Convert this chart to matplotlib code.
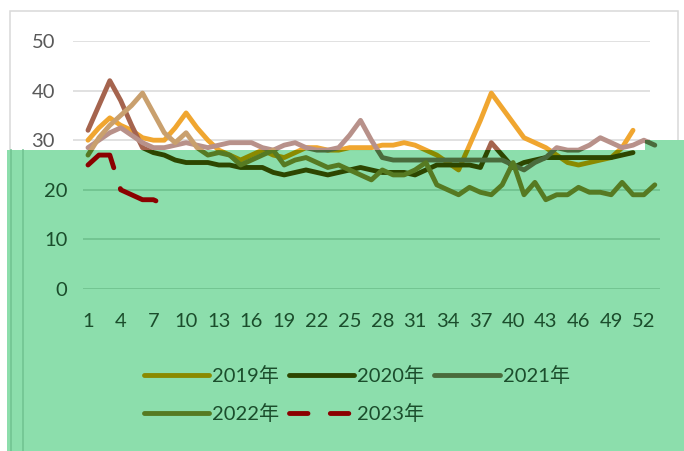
import matplotlib.pyplot as plt
import numpy as np
from matplotlib.lines import Line2D
from matplotlib.patches import Polygon, Rectangle

plt.rcParams['font.family'] = ['Lato', 'Noto Sans CJK SC']

# weekly values per year
weeks = np.arange(1, 54)
y2019 = [30, 32.5, 34.5, 33, 32, 30.5, 30, 30, 32.5, 35.5, 32.5, 30, 28, 27, 26, 27,
         28, 27, 26.5, 27.5, 28.5, 28.5, 28, 28, 28.5, 28.5, 28.5, 29, 29, 29.5, 29, 28,
         27, 25.5, 24, 29, 34, 39.5, 36.5, 33.5, 30.5, 29.5, 28.5, 27, 25.5, 25, 25.5, 26,
         26.5, 28.5, 32]
y2020 = [32, 37, 42, 38, 33, 28.5, 27.5, 27, 26, 25.5, 25.5, 25.5, 25, 25, 24.5, 24.5,
         24.5, 23.5, 23, 23.5, 24, 23.5, 23, 23.5, 24, 24.5, 24, 23.5, 23.5, 23.5, 23, 24,
         25, 25, 25, 25, 24.5, 29.5, 27, 24.5, 25.5, 26, 26.5, 26.5, 26.5, 26.5, 26.5, 26.5,
         26.5, 27, 27.5]
y2021 = [28.5, 30, 31.5, 32.5, 31, 29.5, 28.5, 28.5, 29, 29.5, 29, 28.5, 29, 29.5, 29.5, 29.5,
         28.5, 28, 29, 29.5, 28.5, 28, 28, 28.5, 31, 34, 30, 26.5, 26, 26, 26, 26,
         26, 26, 26, 26, 26, 26, 26, 25, 24, 25.5, 26.5, 28.5, 28, 28, 29, 30.5,
         29.5, 28.5, 29, 30, 29]
y2022 = [27, 30.5, 33, 35, 37, 39.5, 35.5, 31.5, 29.5, 31.5, 28.5, 27, 27.5, 27, 25, 26,
         27, 28, 25, 26, 26.5, 25.5, 24.5, 25, 24, 23, 22, 24, 23, 23, 24, 25.5,
         21, 20, 19, 20.5, 19.5, 19, 21, 25.5, 19, 21.5, 18, 19, 19, 20.5, 19.5, 19.5,
         19, 21.5, 19, 19, 21]
y2023 = [25, 27, 27, 20, 19, 18, 18, 17]

series = [y2019, y2020, y2021, y2022, y2023]
labels = ['2019年', '2020年', '2021年', '2022年', '2023年']
colors_top = ['#F0A630', '#A5644E', '#B8918A', '#C9A06E', '#8B0000']
colors_low = ['#8A8A00', '#2D4600', '#4A6B3C', '#567A22', '#8B0000']

W, H = 684, 451
fig = plt.figure(figsize=(W / 100, H / 100), dpi=100)


def fx(x):
    return x / W


def fy(y):
    return 1 - y / H


FS = 14.5
LW = 3.5

# outer chart frame
fig.add_artist(Rectangle((fx(9.5), fy(450)), fx(678) - fx(9.5), fy(11) - fy(450),
                         transform=fig.transFigure, fill=False, ec='#D9D9D9', lw=1.1, zorder=0.2))

# light version of the chart
ax = fig.add_axes([fx(73), fy(289), fx(650) - fx(73), fy(41) - fy(289)])
ax.set_zorder(0.5)
ax.set_xlim(-0.376, 52.56)
ax.set_ylim(0, 50)
ax.set_yticks([30, 40, 50])
ax.set_xticks([])
ax.tick_params(axis='y', length=0, pad=13, labelsize=FS, labelcolor='#595959')
ax.grid(axis='y', color='#D9D9D9', lw=1.1)
ax.set_axisbelow(True)
for s in ax.spines.values():
    s.set_visible(False)
ax.patch.set_visible(False)

for i, (vals, c) in enumerate(zip(series, colors_top)):
    kw = dict(color=c, lw=LW, solid_capstyle='round', solid_joinstyle='round')
    if i == 4:
        kw.update(dashes=(8, 4.5), dash_capstyle='round', dash_joinstyle='round')
    ax.plot(weeks[:len(vals)], vals, **kw)

# green band over the lower part
band = Polygon([(fx(7), fy(451)), (fx(7), fy(150)), (fx(645), fy(150)), (fx(645), fy(140)),
                (fx(684), fy(140)), (fx(684), fy(451))],
               closed=True, transform=fig.transFigure, fc='#8CDEAC', ec='none', zorder=1)
fig.add_artist(band)
for xv in (11, 22.5):
    fig.add_artist(Line2D([fx(xv), fx(xv)], [fy(150), fy(451)], transform=fig.transFigure,
                          color='#72C492', lw=1.2, zorder=1.5))

# dark version drawn on the band
ax2 = fig.add_axes([fx(82.55), fy(289), fx(660.25) - fx(82.55), fy(41) - fy(289)])
ax2.set_zorder(2)
ax2.patch.set_visible(False)
ax2.set_xlim(0.5, 53.5)
ax2.set_ylim(0, 50)
ax2.set_yticks([0, 10, 20])
ax2.set_xticks(np.arange(1, 54, 3))
ax2.tick_params(length=0, labelsize=FS, labelcolor='#1B4D2C')
ax2.tick_params(axis='y', pad=11)
ax2.tick_params(axis='x', pad=17)
ax2.grid(axis='y', color='#6CBE8B', lw=1.1)
ax2.set_axisbelow(True)
for s in ax2.spines.values():
    s.set_visible(False)

handles = []
for i, (vals, c, lab) in enumerate(zip(series, colors_low, labels)):
    kw = dict(color=c, lw=LW, solid_capstyle='round', solid_joinstyle='round')
    if i == 4:
        kw.update(dashes=(8, 4.5), dash_capstyle='round', dash_joinstyle='round')
    ln, = ax2.plot(weeks[:len(vals)], vals, **kw)
    ln.set_clip_path(band)
    hk = dict(color=c, lw=LW, solid_capstyle='round')
    if i == 4:
        hk.update(dashes=(3.8, 4.6), dash_capstyle='round')
    handles.append(Line2D([], [], **hk))

# legend fills column by column, so reorder to read row by row
order = [0, 3, 1, 4, 2]
leg = ax2.legend([handles[k] for k in order], [labels[k] for k in order], ncol=3,
                 loc='upper left', bbox_to_anchor=(fx(143.5), fy(366)),
                 bbox_transform=fig.transFigure, frameon=False, fontsize=FS,
                 handlelength=3.24, handletextpad=0.15, columnspacing=0.5,
                 labelspacing=0.95, borderpad=0, borderaxespad=0)
for t in leg.get_texts():
    t.set_color('#1B4D2C')

fig.savefig('out.png', dpi=100)
